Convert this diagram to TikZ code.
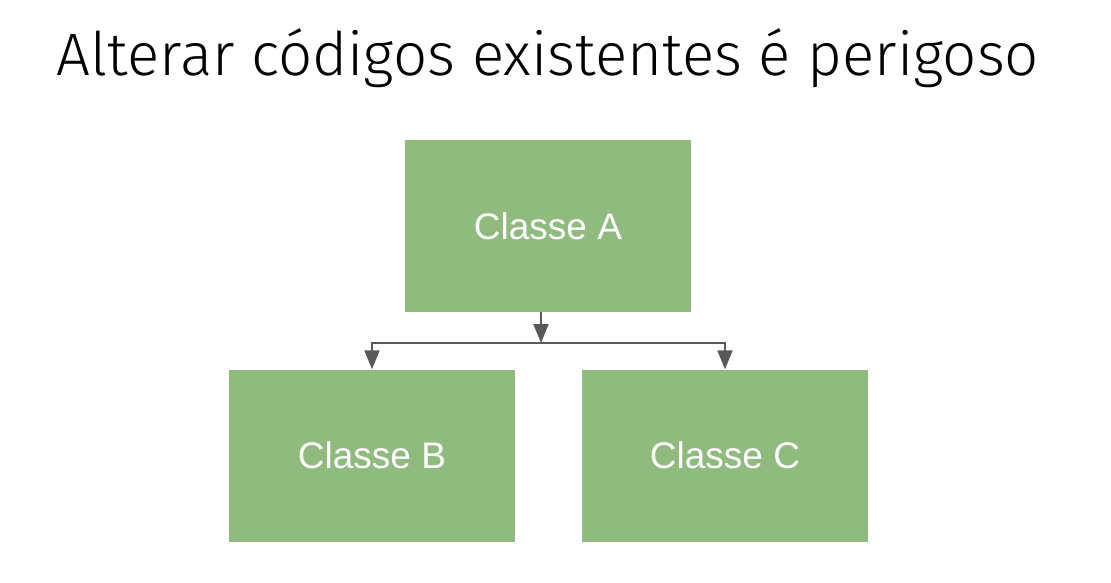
\documentclass[tikz,border=0pt]{standalone}
\usepackage{fontspec}
\setmainfont{Liberation Sans}
\newfontfamily\titlefont{Fira Sans}[UprightFont=* Light]
\usetikzlibrary{arrows.meta}

\definecolor{boxgreen}{HTML}{90BB7F}
\definecolor{arrowgray}{HTML}{595959}

\tikzset{
    classbox/.style={fill=boxgreen, minimum width=286pt, minimum height=172pt,
                     inner sep=0pt, text=white, font=\fontsize{37}{40}\selectfont},
    link/.style={arrowgray, line width=2.2pt,
                 -{Triangle[width=15pt,length=19pt]}}
}

\begin{document}
\begin{tikzpicture}[x=1pt, y=-1pt]
            \useasboundingbox (0,0) rectangle (1111,582);

            % 1. Title
            \node[anchor=base, inner sep=0pt, font=\titlefont\fontsize{60}{70}\selectfont] (title)
                at (548,75) {Alterar códigos existentes é perigoso};

            % 2. The three classes
            \node[classbox] (classA) at (548,226) {Classe A};
            \node[classbox] (classB) at (372,455.5) {Classe B};
            \node[classbox] (classC) at (725,455.5) {Classe C};

            % 3. Connectors from A down to B and C
            \coordinate (split) at (541,343);
            \draw[link] ([xshift=-7pt]classA.south) -- (split);
            \draw[link] (split) -| (classB.north);
            \draw[link] (split) -| (classC.north);

        \end{tikzpicture}
\end{document}
